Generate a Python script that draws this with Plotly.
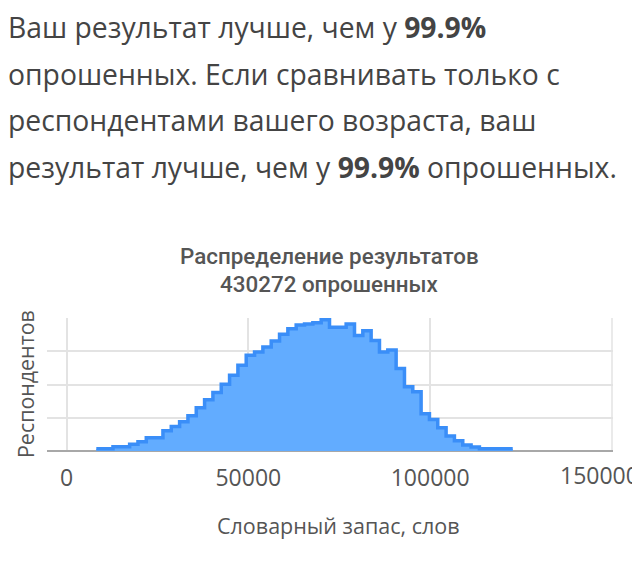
import plotly.graph_objects as go

# histogram of vocabulary size (respondents per bin)
bin_start = 8200
bin_width = 2290
counts = [350, 350, 650, 650, 1000, 1400, 2000, 2000, 3050, 3700,
          4400, 5300, 6500, 7700, 8800, 10050, 11400, 12900, 14400, 14900,
          15650, 16550, 17550, 18400, 18950, 19100, 19300, 19750, 18600, 18600,
          19100, 17350, 18100, 16600, 14900, 15200, 12400, 9650, 8900, 5600,
          4750, 3500, 2250, 1550, 900, 600, 350, 350, 350, 350]

x_ticks = [0, 50000, 100000, 150000]
x_tick_labels = ["0", "50000", "100000", "150000"]

intro_lines = [
    "Ваш результат лучше, чем у <b>99.9%</b>",
    "опрошенных. Если сравнивать только с",
    "респондентами вашего возраста, ваш",
    "результат лучше, чем у <b>99.9%</b> опрошенных.",
]
chart_title = ["Распределение результатов", "430272 опрошенных"]
x_title = "Словарный запас, слов"
y_title = "Респондентов"

OFF = 8  # body margin of the page, keep the figure inside the window
W, H = 640 - OFF, 562 - OFF
L, R, T, B = 47 - OFF, 613 - OFF, 318 - OFF, 451 - OFF
x0 = 66.5 - OFF
k = (612 - OFF - x0) / 150000
x_range = [(L - x0) / k, (R - x0) / k]

edges = [bin_start + i * bin_width for i in range(len(counts) + 1)]
ys = counts + [counts[-1]]


def px(x):
    return (x - OFF - L) / (R - L)


def py(y):
    return (B - (y - OFF)) / (B - T)


tick_font = dict(family="Open Sans", size=23, color="#555555")

fig = go.Figure()
fig.add_trace(go.Scatter(
    x=edges, y=ys, mode="lines", line_shape="hv",
    line=dict(color="#3a8ef8", width=3.5),
    fill="tozeroy", fillcolor="#62acff",
    hoverinfo="skip", showlegend=False))

ann = []
for i, line in enumerate(intro_lines):
    ann.append(dict(text=line, x=px(6), y=py(27 + i * 46.5), xref="paper", yref="paper",
                    xanchor="left", yanchor="middle", showarrow=False,
                    font=dict(family="Open Sans", size=28.3, color="#444444")))
for i, line in enumerate(chart_title):
    ann.append(dict(text=line, x=px(329), y=py(256 + i * 28), xref="paper", yref="paper",
                    xanchor="center", yanchor="middle", showarrow=False,
                    font=dict(family="Roboto", size=22.4, color="#555555", weight=500)))
ann.append(dict(text=x_title, x=px(338), y=py(525), xref="paper", yref="paper",
                xanchor="center", yanchor="middle", showarrow=False,
                font=dict(family="Open Sans", size=21.5, color="#555555")))
ann.append(dict(text=y_title, x=px(25), y=py(384), xref="paper", yref="paper",
                xanchor="center", yanchor="middle", showarrow=False, textangle=-90,
                font=dict(family="Open Sans", size=21.4, color="#555555")))
# last tick label runs off the window edge in the original; keep it at the edge
ann.append(dict(text=x_tick_labels[-1], x=px(641), y=py(475), xref="paper", yref="paper",
                xanchor="right", yanchor="middle", showarrow=False, font=tick_font))

fig.update_layout(
    width=W, height=H,
    margin=dict(l=L, r=W - R, t=T, b=H - B),
    paper_bgcolor="white", plot_bgcolor="white",
    annotations=ann,
    xaxis=dict(range=x_range, tickvals=x_ticks[:-1], ticktext=x_tick_labels[:-1],
               showgrid=True, gridcolor="#e3e3e3", gridwidth=1.5, zeroline=False,
               showline=False, ticks="", ticklabelstandoff=11,
               tickfont=tick_font),
    yaxis=dict(range=[0, 20000], dtick=5000, showticklabels=False,
               showgrid=True, gridcolor="#e3e3e3", gridwidth=1.5,
               zeroline=True, zerolinecolor="#a8a8a8", zerolinewidth=2,
               showline=False, ticks=""),
    shapes=[dict(type="line", xref="x", yref="paper", x0=x_ticks[-1], x1=x_ticks[-1],
                 y0=0, y1=1, line=dict(color="#e3e3e3", width=1.5), layer="below")],
)

fig.write_html("out.html")
